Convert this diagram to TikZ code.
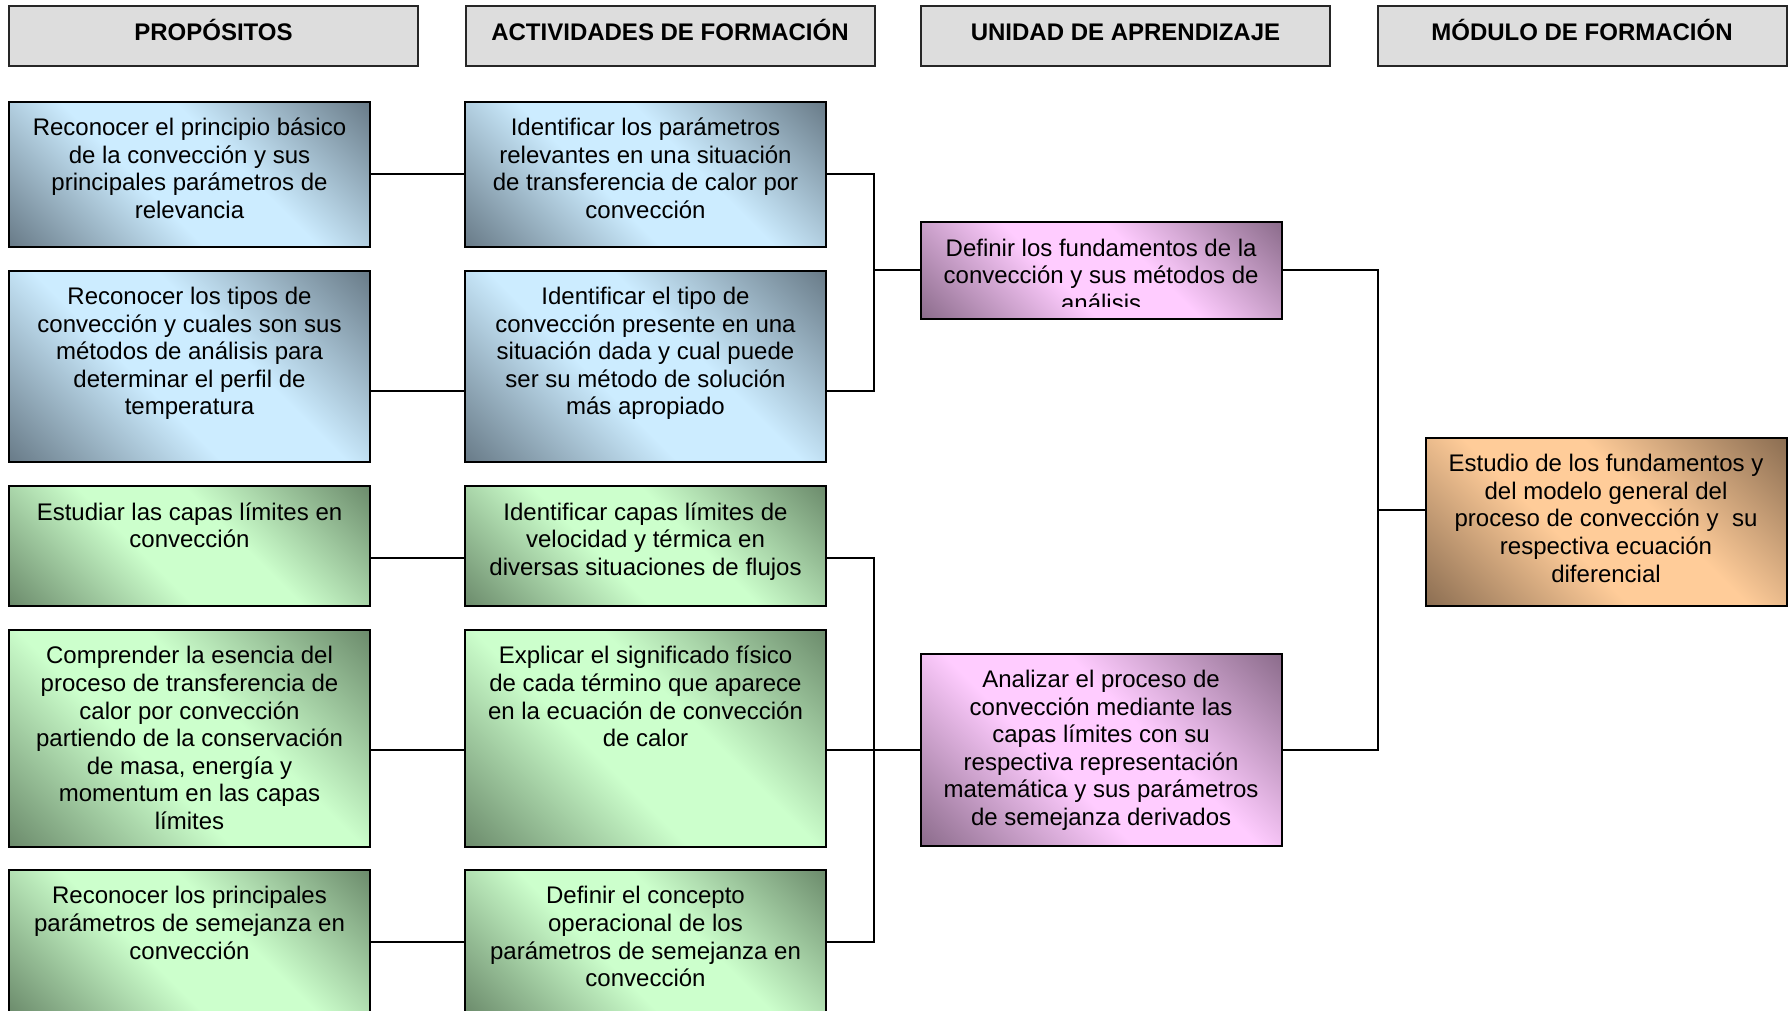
\documentclass[tikz,border=0pt]{standalone}
\usepackage{fontspec}
\setmainfont{Liberation Sans}
\definecolor{bdark}{RGB}{88,104,116}
\definecolor{blight}{RGB}{204,236,255}
\definecolor{gdark}{RGB}{92,120,92}
\definecolor{glight}{RGB}{204,255,204}
\definecolor{pdark}{RGB}{120,92,120}
\definecolor{plight}{RGB}{255,204,255}
\definecolor{odark}{RGB}{120,94,70}
\definecolor{olight}{RGB}{255,204,153}
\definecolor{hfill}{RGB}{221,221,221}
\pgfdeclarehorizontalshading{bshade}{100bp}{color(0bp)=(bdark); color(10bp)=(bdark); color(42bp)=(blight); color(58bp)=(blight); color(90bp)=(bdark); color(100bp)=(bdark)}
\pgfdeclarehorizontalshading{gshade}{100bp}{color(0bp)=(gdark); color(10bp)=(gdark); color(42bp)=(glight); color(58bp)=(glight); color(90bp)=(gdark); color(100bp)=(gdark)}
\pgfdeclarehorizontalshading{pshade}{100bp}{color(0bp)=(pdark); color(10bp)=(pdark); color(42bp)=(plight); color(58bp)=(plight); color(90bp)=(pdark); color(100bp)=(pdark)}
\pgfdeclarehorizontalshading{oshade}{100bp}{color(0bp)=(odark); color(10bp)=(odark); color(42bp)=(olight); color(58bp)=(olight); color(90bp)=(odark); color(100bp)=(odark)}
\tikzset{
  boxbase/.style={draw=black, line width=2pt, inner sep=0pt, outer sep=0pt, shade, shading angle=45},
  bluebox/.style={boxbase, shading=bshade},
  greenbox/.style={boxbase, shading=gshade},
  pinkbox/.style={boxbase, shading=pshade},
  orangebox/.style={boxbase, shading=oshade},
  hdrbox/.style={draw=black!85, line width=2pt, fill=hfill, inner sep=0pt, outer sep=0pt, minimum width=409pt, minimum height=60pt},
  htxt/.style={inner sep=0pt, anchor=base, font=\fontsize{24}{27.6}\selectfont\bfseries},
  txt/.style={inner sep=0pt, anchor=north, align=center, font=\fontsize{24}{27.6}\selectfont},
  conn/.style={draw=black, line width=2pt}
}
\begin{document}
\begin{tikzpicture}[x=1pt, y=-1pt]
\useasboundingbox (0,0) rectangle (1790,1011);
\begin{scope}
\clip (0,0) rectangle (1790,1011);
% headers
\node[hdrbox] (h1) at (213.5,36) {};
\node[hdrbox] (h2) at (670,36) {};
\node[hdrbox] (h3) at (1125.5,36) {};
\node[hdrbox] (h4) at (1582,36) {};
\node[htxt] (h1t) at ([yshift=-4.9pt]h1.center) {PROPÓSITOS};
\node[htxt] (h2t) at ([yshift=-4.9pt]h2.center) {ACTIVIDADES DE FORMACIÓN};
\node[htxt] (h3t) at ([yshift=-4.9pt]h3.center) {UNIDAD DE APRENDIZAJE};
\node[htxt] (h4t) at ([yshift=-4.9pt]h4.center) {MÓDULO DE FORMACIÓN};
% boxes
\node[bluebox, minimum width=361pt, minimum height=145pt] (p1) at (189.5,174.1) {};
\node[bluebox, minimum width=361pt, minimum height=145pt] (a1) at (645.5,174.1) {};
\node[bluebox, minimum width=361pt, minimum height=191.8pt] (p2) at (189.5,366.5) {};
\node[bluebox, minimum width=361pt, minimum height=191.8pt] (a2) at (645.5,366.5) {};
\node[greenbox, minimum width=361pt, minimum height=119.9pt] (p3) at (189.5,546.25) {};
\node[greenbox, minimum width=361pt, minimum height=119.9pt] (a3) at (645.5,546.25) {};
\node[greenbox, minimum width=361pt, minimum height=216.5pt] (p4) at (189.5,738.25) {};
\node[greenbox, minimum width=361pt, minimum height=216.5pt] (a4) at (645.5,738.25) {};
\node[greenbox, minimum width=361pt, minimum height=144pt] (p5) at (189.5,942) {};
\node[greenbox, minimum width=361pt, minimum height=144pt] (a5) at (645.5,942) {};
\node[pinkbox, minimum width=361pt, minimum height=96.7pt] (u1) at (1101.1,270.25) {};
\node[pinkbox, minimum width=361pt, minimum height=192.3pt] (u2) at (1101.1,749.85) {};
\node[orangebox, minimum width=361pt, minimum height=168.2pt] (m) at (1606,522) {};
% texts
\node[txt] (p1t) at ([yshift=-14.3pt]p1.north) {\strut Reconocer el principio básico\\de la convección y sus\\principales parámetros de\\relevancia};
\node[txt] (a1t) at ([yshift=-14.3pt]a1.north) {\strut Identificar los parámetros\\relevantes en una situación\\de transferencia de calor por\\convección};
\node[txt] (p2t) at ([yshift=-14.3pt]p2.north) {\strut Reconocer los tipos de\\convección y cuales son sus\\métodos de análisis para\\determinar el perfil de\\temperatura};
\node[txt] (a2t) at ([yshift=-14.3pt]a2.north) {\strut Identificar el tipo de\\convección presente en una\\situación dada y cual puede\\ser su método de solución\\más apropiado};
\node[txt] (p3t) at ([yshift=-14.3pt]p3.north) {\strut Estudiar las capas límites en\\convección};
\node[txt] (a3t) at ([yshift=-14.3pt]a3.north) {\strut Identificar capas límites de\\velocidad y térmica en\\diversas situaciones de flujos};
\node[txt] (p4t) at ([yshift=-14.3pt]p4.north) {\strut Comprender la esencia del\\proceso de transferencia de\\calor por convección\\partiendo de la conservación\\de masa, energía y\\momentum en las capas\\límites};
\node[txt] (a4t) at ([yshift=-14.3pt]a4.north) {\strut Explicar el significado físico\\de cada término que aparece\\en la ecuación de convección\\de calor};
\node[txt] (p5t) at ([yshift=-14.3pt]p5.north) {\strut Reconocer los principales\\parámetros de semejanza en\\convección};
\node[txt] (a5t) at ([yshift=-14.3pt]a5.north) {\strut Definir el concepto\\operacional de los\\parámetros de semejanza en\\convección};
\begin{scope}
\clip (u1.north west) rectangle ([yshift=12.6pt]u1.south east);
\node[txt] (u1t) at ([yshift=-14.6pt]u1.north) {\strut Definir los fundamentos de la\\convección y sus métodos de\\análisis};
\end{scope}
\node[txt] (u2t) at ([yshift=-14.3pt]u2.north) {\strut Analizar el proceso de\\convección mediante las\\capas límites con su\\respectiva representación\\matemática y sus parámetros\\de semejanza derivados};
\node[txt] (mt) at ([yshift=-14.2pt]m.north) {\strut Estudio de los fundamentos y\\del modelo general del\\proceso de convección y\ \ su\\respectiva ecuación\\diferencial};
% connectors
\coordinate (bA1) at (874,270.25);
\coordinate (bA2) at (874,749.85);
\coordinate (bU) at (1378,510);
\draw[conn] (p1.east) -- (a1.west);
\draw[conn] ([yshift=-24pt]p2.east) -- ([yshift=-24pt]a2.west);
\draw[conn] ([yshift=-11.75pt]p3.east) -- ([yshift=-11.75pt]a3.west);
\draw[conn] ([yshift=-11.75pt]p4.east) -- ([yshift=-11.75pt]a4.west);
\draw[conn] (p5.east) -- (a5.west);
\draw[conn] (a1.east) -| (bA1) |- ([yshift=-24pt]a2.east);
\draw[conn] (bA1) -- (u1.west);
\draw[conn] ([yshift=-11.75pt]a3.east) -| (bA2) |- (a5.east);
\draw[conn] (a4.east |- u2.west) -- (u2.west);
\draw[conn] (u1.east) -| (bU) |- (u2.east);
\draw[conn] (bU) -- (bU -| m.west);
\end{scope}
\end{tikzpicture}
\end{document}
